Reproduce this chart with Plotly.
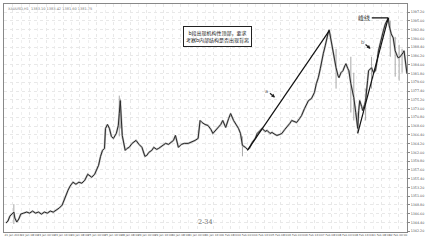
import plotly.graph_objects as go

# bar index (hourly bars) and close prices
bar_index = [5,7,9,11,13,14,16,18,20,23,26,29,32,35,38,41,44,47,50,53,56,59,62,65,68,70,73,76,79,82,85,88,90,92,95,97,99,101,103,105,106,108,110,112,114,117,119,120,121,123,125,126,128,130,133,137,140,143,146,148,150,153,155,158,160,163,167,170,173,175,177,179,180,183,186,190,193,197,200,202,204,207,210,213,215,218,220,223,225,228,231,233,236,238,241,243,245,248,250,252,255,258,260,263,265,268,270,273,275,278,280,283,285,288,290,293,295,298,300,303,305,308,310,312,315,318,320,322,324,325,327,329,330,332,333,335,336,338,340,342,343,345,347,349,350,352,353,355,357,358,360,361,362,363,364,366,367,369,370,372,373,375,376,378,380,382,383,385,386,388,390,392,393,394,396,398,399,400,402,403,405,406,408,409,410,411,412]
close = [1344.25,1344.75,1346.0,1346.5,1347.0,1345.5,1344.5,1345.25,1346.5,1346.75,1347.0,1346.75,1347.25,1346.75,1347.0,1346.5,1347.0,1346.75,1347.25,1347.0,1347.5,1348.0,1348.75,1350.75,1352.5,1353.5,1354.5,1354.0,1354.5,1354.25,1355.0,1356.5,1356.0,1355.75,1356.5,1357.5,1358.75,1361.0,1362.5,1363.0,1368.0,1369.0,1368.0,1366.0,1365.5,1366.75,1368.75,1371.75,1375.0,1366.25,1364.25,1362.5,1363.0,1363.25,1364.25,1365.0,1364.0,1363.25,1361.0,1361.25,1362.0,1362.5,1363.25,1362.75,1363.0,1363.5,1364.25,1364.0,1364.75,1365.0,1366.25,1364.5,1363.25,1364.0,1364.25,1364.25,1364.5,1365.0,1365.5,1370.0,1369.5,1369.0,1368.75,1367.75,1366.75,1367.5,1368.25,1369.0,1370.0,1368.25,1370.5,1371.75,1370.0,1369.25,1368.0,1366.75,1363.75,1363.25,1362.75,1363.0,1364.5,1365.5,1366.75,1367.5,1368.0,1367.25,1367.5,1366.75,1367.0,1366.5,1366.25,1366.5,1366.75,1367.75,1368.25,1369.25,1370.0,1369.75,1369.5,1370.5,1371.25,1373.0,1374.0,1375.0,1375.5,1377.0,1379.25,1380.75,1383.0,1384.5,1386.75,1388.75,1390.0,1392.0,1392.75,1390.0,1388.25,1385.0,1383.25,1381.25,1380.75,1382.0,1382.5,1383.75,1384.25,1383.0,1382.5,1379.25,1377.0,1375.75,1372.0,1369.5,1368.0,1372.5,1375.0,1373.5,1372.5,1374.0,1375.0,1380.0,1382.5,1383.0,1383.25,1382.0,1382.5,1385.5,1387.5,1389.5,1390.75,1392.5,1394.25,1395.25,1395.75,1393.75,1391.75,1390.75,1388.75,1387.5,1386.25,1385.75,1386.0,1386.25,1387.0,1387.5,1385.0,1383.25,1381.75]

# a few long wicks (bar, low, high)
wick_bar = [13, 120, 121, 245, 340, 355, 358, 362, 370, 376, 395, 400, 404, 407]
wick_low = [1344.0, 1366.0, 1368.0, 1361.0, 1378.0, 1372.0, 1370.0, 1366.75, 1370.0, 1378.0, 1386.0, 1381.0, 1380.0, 1382.0]
wick_high = [1349.0, 1376.25, 1375.5, 1366.0, 1388.0, 1386.0, 1382.0, 1372.0, 1378.0, 1386.0, 1395.0, 1391.0, 1389.0, 1388.0]

# trend lines a and b (start bar, start price, end bar, end price)
line_a = [250, 1362.5, 333, 1392.5]
line_b = [362, 1366.75, 393, 1395.75]

date_labels = ["21 Jan 2013", "22 Jan 08:00", "23 Jan 00:00", "23 Jan 16:00", "24 Jan 08:00",
               "25 Jan 00:00", "25 Jan 16:00", "28 Jan 08:00", "29 Jan 00:00", "29 Jan 16:00",
               "30 Jan 08:00", "31 Jan 00:00", "31 Jan 16:00", "1 Feb 08:00", "4 Feb 00:00",
               "4 Feb 16:00", "5 Feb 08:00", "6 Feb 00:00", "6 Feb 16:00", "7 Feb 08:00",
               "8 Feb 00:00", "8 Feb 16:00", "11 Feb 08:00", "12 Feb 00:00"]

header_text = "XAUUSD,H1  1383.10 1383.42 1381.60 1381.75"
box_text = "b段出现机构性顶部，要求<br>考察b内部结构是否出现背离"
fig_caption = "2-34"

fig = go.Figure()

wx, wy = [], []
for b, lo, hi in zip(wick_bar, wick_low, wick_high):
    wx += [b, b, None]
    wy += [lo, hi, None]
fig.add_trace(go.Scatter(x=wx, y=wy, mode="lines", line=dict(color="#a8a8a8", width=1),
                         hoverinfo="skip", showlegend=False))
fig.add_trace(go.Scatter(x=bar_index, y=close, mode="lines", line=dict(color="#bcbcbc", width=2.0),
                         hoverinfo="skip", showlegend=False))
fig.add_trace(go.Scatter(x=bar_index, y=close, mode="lines", line=dict(color="#2a2a2a", width=1.0),
                         showlegend=False))

for ln in (line_a, line_b):
    fig.add_trace(go.Scatter(x=[ln[0], ln[2]], y=[ln[1], ln[3]], mode="lines",
                             line=dict(color="#111111", width=1.2), showlegend=False))

fig.add_annotation(x=line_b[2], y=line_b[3], text="峰线", showarrow=True, ax=-24, ay=0,
                   arrowhead=0, arrowwidth=1.2, arrowcolor="#111111",
                   font=dict(family="Noto Sans CJK SC", size=6, color="#333333"))
fig.add_annotation(x=278, y=1375.75, text="a", showarrow=True, ax=-8, ay=-7,
                   arrowhead=2, arrowsize=0.6, arrowwidth=1.2, arrowcolor="#222222",
                   font=dict(family="DejaVu Sans", size=5, color="#555555"))
fig.add_annotation(x=375, y=1388.0, text="b", showarrow=True, ax=-8, ay=-7,
                   arrowhead=2, arrowsize=0.6, arrowwidth=1.2, arrowcolor="#222222",
                   font=dict(family="DejaVu Sans", size=5, color="#555555"))
fig.add_annotation(x=220, y=1391.0, text=box_text, showarrow=False,
                   font=dict(family="Noto Sans CJK SC", size=5, color="#222222"),
                   bordercolor="#222222", borderwidth=1, borderpad=2, bgcolor="white")
fig.add_annotation(x=207, y=1344.5, yanchor="middle", text=fig_caption, showarrow=False,
                   font=dict(family="DejaVu Serif", size=6.5, color="#666666"))
fig.add_annotation(x=0.005, y=0.995, xref="paper", yref="paper", xanchor="left", yanchor="top",
                   text=header_text, showarrow=False,
                   font=dict(family="DejaVu Sans", size=3.5, color="#777777"))

fig.update_layout(
    width=427, height=240,
    margin=dict(l=3, r=15, t=3, b=8),
    paper_bgcolor="white", plot_bgcolor="white",
    xaxis=dict(range=[3, 412], tickvals=list(range(12, 412, 17)), ticktext=date_labels,
               tickangle=0,
               tickfont=dict(family="DejaVu Sans", size=2.8, color="#555555"),
               showgrid=True, gridcolor="#e8e8e8", griddash="dot", gridwidth=1,
               minor=dict(dtick=8.5, tick0=3.5, showgrid=True, gridcolor="#efefef", griddash="dot"),
               showline=True, linecolor="#888888", mirror=True, ticks="", zeroline=False),
    yaxis=dict(range=[1342.0, 1399.25], side="right", tick0=1342.2, dtick=2.2, tickformat=".2f",
               tickfont=dict(family="DejaVu Sans", size=3.3, color="#555555"),
               showgrid=True, gridcolor="#e8e8e8", griddash="dot", gridwidth=1,
               showline=True, linecolor="#888888", mirror=True, ticks="outside", ticklen=2,
               tickcolor="#888888", zeroline=False),
)

fig.write_html("out.html")
